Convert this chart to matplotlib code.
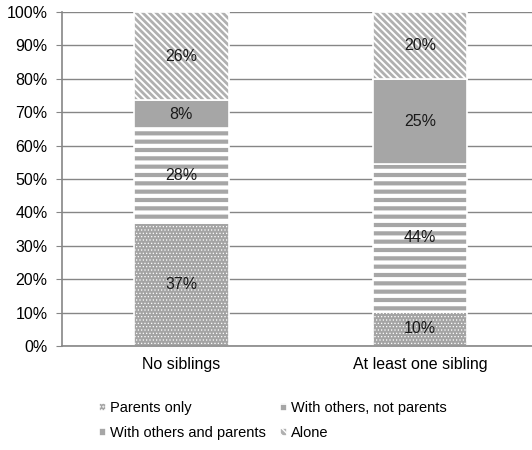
import matplotlib.pyplot as plt
import numpy as np

# Dane
groups = ['No siblings', 'At least one sibling']
series = ['Parents only', 'With others, not parents', 'With others and parents', 'Alone']
parents_only = [36.8, 10.2]
others_not_parents = [28.5, 44.4]
others_and_parents = [8.3, 25.4]
alone = [26.4, 20.0]

plt.rcParams['font.family'] = ['Liberation Sans', 'DejaVu Sans']
fs = 11.5

grey = '#a6a6a6'
# (kolor tla, kreskowanie, grubosc kreskowania)
styles = [
    ('#a4a4a4', '.....', 0.5),
    (grey, '--', 3.0),
    (grey, None, 1.0),
    ('#b0b0b0', '\\\\\\\\\\', 1.4),
]

fig = plt.figure(figsize=(5.32, 4.5), dpi=100)
ax = fig.add_axes([0.1165, 0.2311, 0.898, 0.7422])

x = np.arange(len(groups))
bottom = np.zeros(len(groups))
handles = []
for name, vals, (fc, hatch, hlw) in zip(series,
                                        [parents_only, others_not_parents, others_and_parents, alone],
                                        styles):
    with plt.rc_context({'hatch.linewidth': hlw}):
        bars = ax.bar(x, vals, 0.395, bottom=bottom, color=fc, hatch=hatch,
                      edgecolor='white', linewidth=1.2, label=name, zorder=2)
    for xi, b, v in zip(x, bottom, vals):
        ax.text(xi, b + v / 2, f'{v:.0f}%', ha='center', va='center', fontsize=fs, color='#1a1a1a', zorder=3)
    bottom += np.array(vals)
    handles.append(bars)

ax.set_xlim(-0.5, 1.5)
ax.set_ylim(0, 100)
ax.set_yticks(np.arange(0, 101, 10))
ax.set_yticklabels([f'{t}%' for t in range(0, 101, 10)], fontsize=fs)
ax.set_xticks(x)
ax.set_xticklabels(groups, fontsize=fs)
ax.tick_params(axis='x', length=0, pad=8)
ax.tick_params(axis='y', length=4, color='#868686', pad=6.5)
ax.yaxis.grid(True, color='#868686', linewidth=1, zorder=0)
ax.set_axisbelow(True)
for s in ['top', 'right']:
    ax.spines[s].set_visible(False)
for s in ['left', 'bottom']:
    ax.spines[s].set_color('#868686')
    ax.spines[s].set_linewidth(1.2)

# legenda wierszami: kolejnosc pod ncol=2
order = [0, 2, 1, 3]
fig.legend([handles[i] for i in order], [series[i] for i in order],
           loc='upper left', bbox_to_anchor=(0.172, 0.125), ncol=2,
           frameon=False, fontsize=10.5, handlelength=0.5, handleheight=0.5,
           handletextpad=0.25, columnspacing=1.0, labelspacing=0.75, borderpad=0)

fig.savefig('out.png', dpi=100)
